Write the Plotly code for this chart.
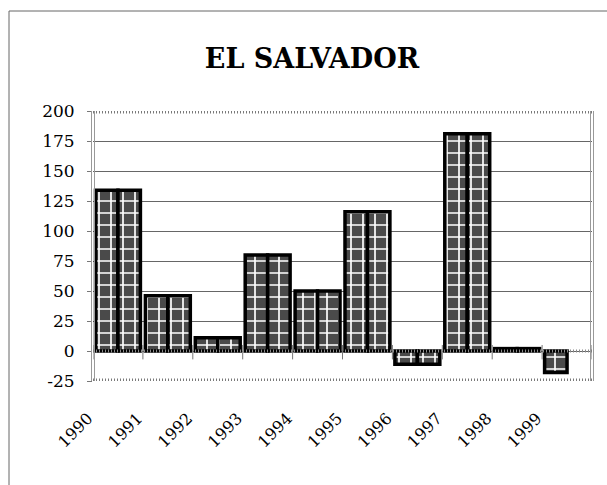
import plotly.graph_objects as go

# Annual values for El Salvador, 1990-1999 (two series; the second has no 1999 value)
years = ["1990", "1991", "1992", "1993", "1994", "1995", "1996", "1997", "1998", "1999"]
series_a = [134, 46, 11, 80, 50, 116, -11, 181, 2, -18]
series_b = [134, 46, 11, 80, 50, 116, -11, 181, 2, None]
y_ticks = [-25, 0, 25, 50, 75, 100, 125, 150, 175, 200]

W, H = 607, 485
L, R, T, B = 93, 15, 111, 104
SERIF = "DejaVu Serif"

x_idx = list(range(len(years)))

pattern = dict(shape="+", size=12, solidity=0.26, bgcolor="#4a4a4a", fgcolor="white",
               fillmode="replace")

fig = go.Figure()
for vals in (series_a, series_b):
    fig.add_trace(go.Bar(
        x=x_idx, y=vals,
        marker=dict(color="#4a4a4a", pattern=pattern, line=dict(color="black", width=3.5)),
        showlegend=False, hoverinfo="x+y",
    ))

shapes = []
# hatched rules along the top (200), bottom (-25) and zero lines
for yv, w, col in [(200, 5, "#7a7a7a"), (-25, 5, "#7a7a7a"), (0, 3, "#8a8a8a")]:
    shapes.append(dict(type="line", xref="paper", yref="y", x0=0, x1=1, y0=yv, y1=yv,
                       line=dict(color=col, width=w, dash="1px,2px"), layer="above"))
# category boundary ticks across the zero line
for i in range(len(years) + 1):
    shapes.append(dict(type="line", xref="x", yref="y", x0=i - 0.5, x1=i - 0.5, y0=-7, y1=5,
                       line=dict(color="#777", width=1), layer="above"))
# double frame lines on the left and right of the plot area
for xa in (0, 1):
    for off in (-1.5, 1.5):
        shapes.append(dict(type="line", xref="paper", yref="paper", xsizemode="pixel",
                           xanchor=xa, x0=off, x1=off, y0=0, y1=1,
                           line=dict(color="#999", width=1)))
# outer chart border (left and top edges)
bx = (9 - L) / (W - L - R)
by = 1 + (T - 11) / (H - T - B)
shapes.append(dict(type="line", xref="paper", yref="paper", x0=bx, x1=bx, y0=-1, y1=by,
                   line=dict(color="#666", width=1)))
shapes.append(dict(type="line", xref="paper", yref="paper", x0=bx, x1=2, y0=by, y1=by,
                   line=dict(color="#666", width=1)))

fig.update_layout(
    width=W, height=H,
    margin=dict(l=L, r=R, t=T, b=B, pad=0),
    paper_bgcolor="white", plot_bgcolor="white",
    barmode="group", bargap=0.1, bargroupgap=0,
    title=dict(text="<b>EL SALVADOR</b>", x=312 / W, xanchor="center",
               y=1 - 59 / H, yanchor="middle",
               font=dict(family=SERIF, size=27, color="black")),
    shapes=shapes,
    xaxis=dict(
        range=[-0.5, len(years) - 0.5],
        tickmode="array", tickvals=x_idx, ticktext=years,
        tickangle=-45, ticks="", showgrid=False, zeroline=False, showline=False,
        tickfont=dict(family=SERIF, size=16, color="black"),
        ticklabelshift=-30, ticklabelstandoff=24,
    ),
    yaxis=dict(
        range=[-25, 200], tickmode="array", tickvals=y_ticks,
        ticktext=[str(v) for v in y_ticks],
        ticks="outside", ticklen=5, tickcolor="#777",
        showgrid=True, gridcolor="#666", gridwidth=1, zeroline=False, showline=False,
        tickfont=dict(family=SERIF, size=17, color="black"),
        ticklabelstandoff=9,
    ),
)

fig.write_html("out.html")
